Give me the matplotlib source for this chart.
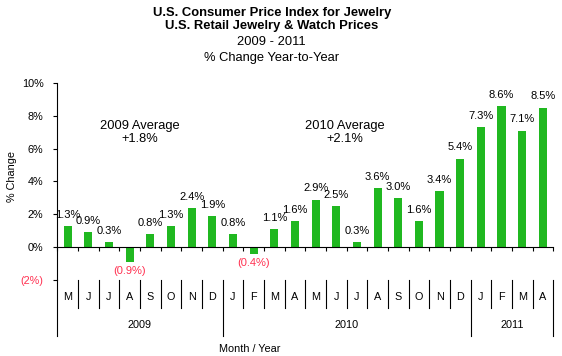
import matplotlib.pyplot as plt
import numpy as np

plt.rcParams['font.family'] = ['Liberation Sans', 'DejaVu Sans']

months = ['M', 'J', 'J', 'A', 'S', 'O', 'N', 'D',
          'J', 'F', 'M', 'A', 'M', 'J', 'J', 'A', 'S', 'O', 'N', 'D',
          'J', 'F', 'M', 'A']
years = ['2009', '2010', '2011']
months_per_year = [8, 12, 4]
pct_change = [1.3, 0.9, 0.3, -0.9, 0.8, 1.3, 2.4, 1.9,
              0.8, -0.4, 1.1, 1.6, 2.9, 2.5, 0.3, 3.6, 3.0, 1.6, 3.4, 5.4,
              7.3, 8.6, 7.1, 8.5]
avg_2009 = 1.8
avg_2010 = 2.1

green = '#20b820'
red = '#ff3050'


def main():
    fig = plt.figure(figsize=(5.62, 3.56), dpi=100)
    ax = fig.add_axes([0.102, 0.2135, 0.8825, 0.5534])

    x = np.arange(len(pct_change))
    ax.bar(x, pct_change, width=0.4, color=green, zorder=2)

    # data labels
    for i, v in enumerate(pct_change):
        if v >= 0:
            ax.annotate(f'{v:.1f}%', (i, v), xytext=(0, 4.5), textcoords='offset points',
                        ha='center', va='bottom', fontsize=8, color='black')
        else:
            ax.annotate(f'({abs(v):.1f}%)', (i, v), xytext=(0, -3), textcoords='offset points',
                        ha='center', va='top', fontsize=8, color=red)

    ax.set_xlim(-0.5, len(x) - 0.5)
    ax.set_ylim(-2, 10)

    ax.spines['top'].set_visible(False)
    ax.spines['right'].set_visible(False)
    ax.spines['bottom'].set_position(('data', 0))
    for s in ['left', 'bottom']:
        ax.spines[s].set_linewidth(0.8)

    ax.set_xticks(np.arange(-0.5, len(x), 1))
    ax.set_xticklabels([])
    ax.tick_params(axis='x', direction='out', length=3, width=0.8)

    yt = np.arange(-2, 11, 2)
    ax.set_yticks(yt)
    ax.set_yticklabels([f'({abs(t)}%)' if t < 0 else f'{t}%' for t in yt], fontsize=7.8)
    ax.get_yticklabels()[0].set_color(red)
    ax.tick_params(axis='y', direction='out', length=3, width=0.8, pad=7)

    # month / year table under the plot
    tr = ax.get_xaxis_transform()
    year_edges = np.cumsum([0] + months_per_year) - 0.5
    for b in np.arange(-0.5, len(x), 1):
        y_end = -0.284 if b in year_edges else -0.14
        ax.plot([b, b], [0, y_end], transform=tr, color='black', lw=0.8, clip_on=False)
    for i, m in enumerate(months):
        ax.text(i, -0.086, m, transform=tr, ha='center', va='center', fontsize=7.8)
    for k, yr in enumerate(years):
        mid = (year_edges[k] + year_edges[k + 1]) / 2
        ax.text(mid, -0.228, yr, transform=tr, ha='center', va='center', fontsize=7.8)

    ax.text(3.5, 7.0, f'2009 Average\n+{avg_2009}%', ha='center', va='center',
            fontsize=9.3, linespacing=1.15)
    ax.text(13.4, 7.0, f'2010 Average\n+{avg_2010}%', ha='center', va='center',
            fontsize=9.3, linespacing=1.15)

    fig.text(0.022, 1 - 177 / 356, '% Change', rotation=90, ha='center', va='center', fontsize=7.8)
    fig.text(250 / 562, 1 - 349 / 356, 'Month / Year', ha='center', va='center', fontsize=7.8)

    tx = 271.7 / 562
    fig.text(tx, 1 - 12.7 / 356, 'U.S. Consumer Price Index for Jewelry', ha='center', va='center',
             fontsize=9.4, fontweight='bold')
    fig.text(tx, 1 - 25.7 / 356, 'U.S. Retail Jewelry & Watch Prices', ha='center', va='center',
             fontsize=9.4, fontweight='bold')
    fig.text(tx, 1 - 41.7 / 356, '2009 - 2011', ha='center', va='center', fontsize=9.3)
    fig.text(tx, 1 - 58 / 356, '% Change Year-to-Year', ha='center', va='center', fontsize=9.3)

    fig.savefig('out.png', dpi=100)


if __name__ == '__main__':
    main()
